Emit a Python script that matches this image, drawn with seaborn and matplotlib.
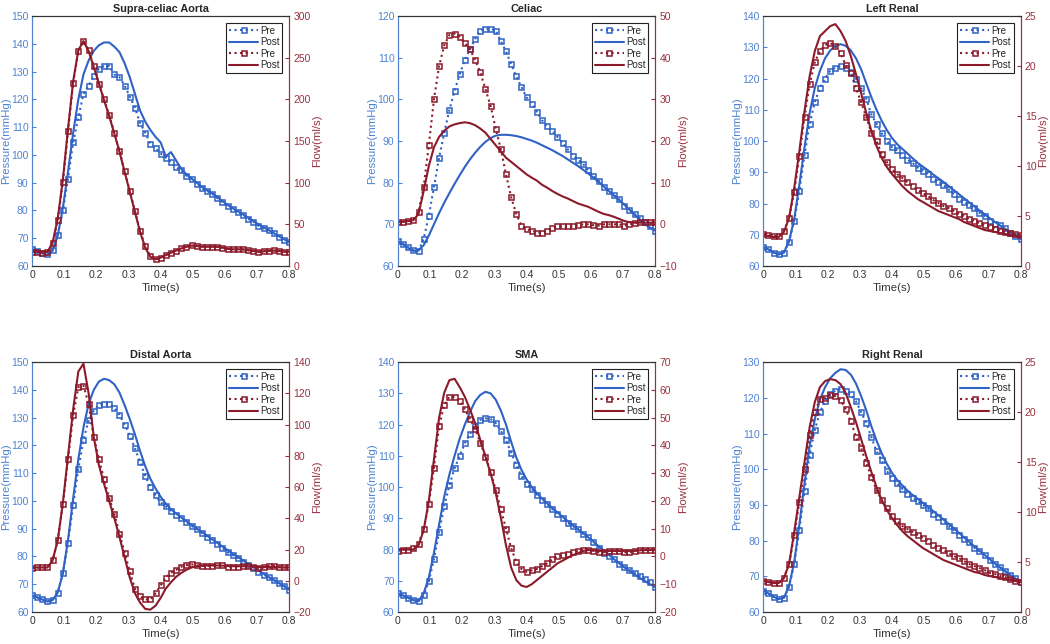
import numpy as np
import matplotlib
matplotlib.use("Agg")
import matplotlib.pyplot as plt
import seaborn as sns

sns.set_style("white")
plt.rcParams['font.family'] = ['Liberation Sans', 'DejaVu Sans']

# time grid of the sampled waveforms (s)
time = np.linspace(0, 0.8, 51)

# Supra-celiac Aorta
sca_p_pre = [66, 65.5, 64.8, 64.3, 65.8, 71, 80, 91.5, 104.5, 113.5, 122, 125, 128.5, 131, 132, 132, 129, 128, 125, 121,
             117, 111.5, 108, 104, 102.5, 100.5, 99, 97.5, 95.5, 94.5, 92.5, 91.5, 89.5, 88, 87, 86, 84.5, 83, 81.5, 80.5,
             79.5, 78.5, 77, 76, 74.5, 73.5, 73, 72, 70.5, 69.5, 68.5]
sca_p_post = [66, 65.5, 64.5, 64, 65.5, 71, 81, 94, 108, 120, 129, 134, 137.5, 139.5, 140.5, 140.5, 139, 137, 133, 128,
              122, 116, 112, 109, 106.5, 104.5, 99.5, 101, 98, 95, 93, 91.5, 90, 88.5, 87.3, 86.2, 84.8, 83.4, 82, 80.8,
              79.7, 78.6, 77.4, 76.2, 75, 73.9, 72.9, 71.8, 70.7, 69.6, 68.5]
sca_q_pre = [17, 17, 16, 17, 27, 55, 101, 162, 220, 258, 270, 259, 240, 219, 200, 181, 160, 138, 114, 90,
             66, 42, 24, 12, 8, 10, 13, 16, 18, 21, 23, 25, 24, 23, 23, 23, 23, 22, 20, 20,
             20, 20, 19, 18, 17, 18, 18, 19, 18, 17, 17]
sca_q_post = [17, 17, 16.5, 17, 28, 57, 104, 165, 222, 259, 270, 258, 239, 219, 199, 180, 159, 137, 113, 89,
              65, 41, 22, 11, 8, 10, 13, 16, 18.5, 21, 23, 24.5, 24, 23, 23, 23, 23, 22, 20.5, 20,
              20, 20, 19, 18, 17, 17.5, 18, 18.5, 18, 17, 17]

# Celiac
cel_p_pre = [66, 65.3, 64.5, 63.8, 63.7, 66.5, 72, 79, 86, 92, 97.5, 102, 106, 109.5, 112, 114.5, 116.5, 117, 117, 116.5,
             114, 111.5, 108.5, 105.5, 103, 100.5, 99, 97, 95, 93.5, 92.5, 91, 89.5, 88, 86.5, 85.5, 84.5, 83, 81.5, 80.5,
             79, 78, 77, 76, 74.5, 73.5, 72.5, 71.5, 70.5, 69.5, 68.5]
cel_p_post = [66, 65.2, 64.3, 63.6, 63.8, 65, 67.3, 70, 72.7, 75.2, 77.5, 79.7, 81.8, 83.8, 85.6, 87.2, 88.6, 89.8, 90.7, 91.3,
              91.5, 91.5, 91.4, 91.2, 90.9, 90.5, 90.1, 89.6, 89, 88.4, 87.8, 87.1, 86.4, 85.6, 84.8, 84, 83.1, 82.2, 81.2, 80.2,
              79.1, 78, 76.9, 75.8, 74.7, 73.5, 72.3, 71.1, 70, 69.2, 68.5]
cel_q_pre = [0.5, 0.6, 0.8, 1, 3, 9, 19, 30, 38, 43, 45.5, 45.8, 45, 43.5, 42, 39.5, 36.5, 32.5, 28.5, 23,
             18, 12, 6.5, 2.5, -0.3, -1.2, -1.5, -2, -2, -1.5, -1, -0.5, -0.5, -0.5, -0.5, -0.2, 0, 0, -0.2, -0.3,
             0, 0, 0, 0, -0.3, 0, 0.2, 0.5, 0.5, 0.5, 0.5]
cel_q_post = [0.5, 0.6, 0.8, 1, 2.5, 8, 14, 18.5, 21, 22.5, 23.5, 24, 24.3, 24.5, 24.3, 23.8, 23, 22, 20.5, 19,
              17.5, 16, 15, 14, 13, 12, 11.2, 10.5, 9.5, 8.8, 8, 7.3, 6.7, 6.2, 5.6, 5, 4.6, 4.2, 3.6, 3,
              2.5, 2.2, 1.8, 1.3, 0.8, 0.5, 0.4, 0.4, 0.4, 0.4, 0.4]

# Left Renal
lr_p_pre = [66, 65.3, 64.3, 63.7, 64.3, 67.8, 74.5, 84, 95.5, 105.5, 112.5, 117, 120, 122.5, 123.5, 124, 123.5, 122, 120, 117,
            113.5, 108.5, 105.5, 102.5, 100, 98, 97, 95.5, 94, 93, 91.5, 90.5, 89.5, 88, 87, 86, 84.5, 83, 81.5, 80.5,
            79.5, 78.5, 77, 76, 74.5, 73.5, 73, 72, 70.5, 69.5, 68.5]
lr_p_post = [66, 65.3, 64.3, 63.7, 64.3, 68, 75, 86, 98, 109, 117, 122.5, 126.5, 129, 130.5, 131, 130.5, 129, 126.5, 123,
             118.5, 114, 110, 106.5, 103.5, 101, 99, 97.5, 96, 94.5, 93, 91.8, 90.6, 89.3, 88.1, 86.9, 85.6, 84.3, 83, 81.7,
             80.4, 79.1, 77.8, 76.6, 75.3, 74.1, 73, 71.9, 70.8, 69.7, 68.7]
lr_q_pre = [3.2, 3.1, 3.0, 3.0, 3.5, 4.8, 7.4, 11, 14.9, 18.2, 20.4, 21.5, 22.1, 22.3, 22, 21.3, 20.1, 19.3, 17.8, 16.4,
            14.9, 13.3, 12.5, 11.2, 10.4, 9.7, 9.2, 8.8, 8.4, 8, 7.6, 7.3, 7.0, 6.6, 6.3, 6.0, 5.8, 5.5, 5.2, 5.0,
            4.7, 4.5, 4.3, 4.1, 3.9, 3.7, 3.5, 3.4, 3.3, 3.2, 3.1]
lr_q_post = [3.1, 3.0, 2.9, 2.9, 3.4, 4.8, 7.8, 11.5, 15.5, 19, 21.5, 23, 23.5, 24, 24.2, 23.5, 22.5, 21, 19.2, 17.3,
             15.3, 13.5, 12, 10.8, 9.9, 9.2, 8.6, 8.0, 7.5, 7.1, 6.7, 6.4, 6.1, 5.8, 5.5, 5.3, 5.1, 4.9, 4.7, 4.4,
             4.2, 4.0, 3.8, 3.6, 3.5, 3.4, 3.3, 3.2, 3.1, 3.0, 3.0]

# Distal Aorta
da_p_pre = [66, 65.3, 64.5, 63.8, 64.3, 67, 74, 85, 98.5, 111.5, 122, 129, 132.5, 134.5, 135, 135, 133.5, 131, 127.5, 123.5,
            119, 114, 109, 105, 102, 99.5, 98, 96.5, 95, 94, 92.5, 91, 90, 88.5, 87, 86, 84.5, 83, 81.5, 80.5,
            79.5, 78, 77, 76, 74.5, 73.5, 72.5, 71.5, 70.5, 69.5, 68]
da_p_post = [66, 65.3, 64.5, 63.8, 64.3, 67, 74, 86, 101, 115, 126.5, 135, 140, 143, 144, 143.5, 142, 139, 134.5, 129.5,
             124, 118, 112.5, 108, 104.5, 101.5, 99, 97, 95.5, 94, 92.7, 91.4, 90.1, 88.8, 87.5, 86.2, 84.9, 83.6, 82.3, 81,
             79.8, 78.6, 77.4, 76.2, 75, 73.8, 72.6, 71.5, 70.4, 69.3, 68.2]
da_q_pre = [8, 8.5, 8.5, 8.5, 13, 26, 49, 78, 106, 124, 125, 113, 92, 78, 65, 53, 43, 30, 18, 6,
            -5, -10, -12, -12, -8, -3, 2, 5, 7, 9, 10, 10.5, 10, 9.5, 9.5, 9.5, 10, 10, 9, 8.5,
            9, 9.5, 9.5, 8.5, 8, 8.5, 9.5, 9.5, 9, 8.5, 8.5]
da_q_post = [8.5, 8.5, 8.5, 8.5, 13, 26, 50, 80, 110, 134, 139, 120, 92, 74, 62, 51, 40, 28, 15, 2,
             -8, -14, -18, -18.5, -16, -11, -5, -1, 2.5, 5, 7, 8.5, 9.3, 9.6, 9.8, 9.8, 9.8, 9.7, 9.5, 9.3,
             9.3, 9.3, 9.3, 9, 8.8, 8.8, 8.8, 8.8, 8.6, 8.5, 8.5]

# SMA
sma_p_pre = [66, 65.3, 64.5, 63.8, 63.5, 65.3, 69.8, 77, 85.5, 94, 100.5, 106, 110, 114, 117, 119.5, 121.5, 122, 121.8, 120.5,
             118, 115, 111, 107, 103.5, 101, 99.5, 97.5, 96, 94.5, 93, 91.5, 90, 88.5, 87.5, 86.5, 85, 84, 82.5, 80.5,
             79, 78, 77, 75.5, 74.5, 73.5, 72.5, 71.5, 70.5, 69.5, 68]
sma_p_post = [66, 65.3, 64.5, 63.8, 63.5, 66, 71, 79, 88, 97, 104, 110, 115.5, 120, 124, 127.5, 129.5, 130.5, 130, 128,
              124.5, 120, 114.5, 109.5, 105.5, 102.5, 100, 98, 96.3, 94.8, 93.3, 91.9, 90.5, 89.1, 87.8, 86.5, 85.2, 83.9, 82.5, 81.1,
              79.7, 78.3, 76.9, 75.6, 74.3, 73.1, 72, 70.9, 69.9, 68.9, 68]
sma_q_pre = [2, 2.5, 2.5, 3, 4.5, 10, 19, 32, 47, 54.5, 57.5, 57.5, 56, 53, 49.5, 46, 41, 36, 30.5, 24,
             17, 10, 3, -2, -4.5, -5.5, -5, -4.5, -3.5, -2.5, -1, 0, 0.5, 1, 1.5, 2, 2.5, 2.5, 2, 1.5,
             1.5, 2, 2, 2, 1.5, 1.5, 2, 2.5, 2.5, 2.5, 2.5]
sma_q_post = [2.5, 2.5, 2.5, 2.5, 4, 9.5, 20, 35, 50, 59, 63.5, 64, 61, 57.5, 53, 48, 42, 36, 30, 23,
              14, 4, -4, -8.5, -10.5, -11, -10, -8.5, -7, -5.5, -4, -2.5, -1.5, -0.5, 0.5, 1.2, 2, 2.3, 2.2, 2,
              2, 2, 2, 2, 2, 2, 2, 2.2, 2.3, 2.3, 2.3]

# Right Renal
rr_p_pre = [66, 65.2, 64.3, 63.6, 64, 67, 73.5, 83, 94, 104, 111, 116, 119, 121, 122, 122.5, 122, 121, 119, 116,
            113, 109, 105, 102.5, 99.5, 97.5, 96, 94.5, 93, 92, 91, 90, 89, 87.5, 86.5, 85.5, 84, 83, 81.5, 80.5,
            79.5, 78, 77, 76, 74.5, 73.5, 72.5, 71.5, 70.5, 69.5, 68.5]
rr_p_post = [66, 65.2, 64.3, 63.6, 64, 67.3, 74, 84.5, 96, 106.5, 114, 119.5, 123, 125.5, 127, 128, 127.8, 126.5, 124, 120.5,
             116.5, 112, 108, 104.5, 101.5, 99, 97, 95.5, 94, 92.8, 91.7, 90.6, 89.5, 88.3, 87.1, 85.9, 84.7, 83.5, 82.2, 80.9,
             79.7, 78.4, 77.2, 76, 74.8, 73.6, 72.5, 71.4, 70.3, 69.3, 68.4]
rr_q_pre = [3.1, 3.0, 2.9, 2.9, 3.4, 4.8, 7.7, 11, 14.3, 17.7, 20, 21.3, 21.4, 21.7, 21.6, 21.2, 20.3, 19.1, 17.5, 16.4,
            14.9, 13.5, 12.2, 11.2, 10.4, 9.6, 9.1, 8.6, 8.3, 8, 7.7, 7.4, 7.1, 6.7, 6.4, 6.2, 5.9, 5.6, 5.4, 5.1,
            4.8, 4.6, 4.4, 4.2, 3.9, 3.8, 3.6, 3.5, 3.3, 3.1, 3.0]
rr_q_post = [3.1, 3.0, 2.9, 2.9, 3.4, 4.8, 8, 11.5, 15, 18.5, 21, 22.5, 23.1, 23.3, 23.2, 22.8, 21.9, 20.5, 19, 17.3,
             15.6, 14, 12.5, 11.2, 10.2, 9.4, 8.7, 8.1, 7.6, 7.2, 6.8, 6.4, 6.1, 5.8, 5.5, 5.2, 5.0, 4.8, 4.6, 4.4,
             4.2, 4.0, 3.9, 3.7, 3.6, 3.5, 3.4, 3.3, 3.2, 3.1, 3.0]

titles = ["Supra-celiac Aorta", "Celiac", "Left Renal", "Distal Aorta", "SMA", "Right Renal"]
p_lims = [(60, 150, 10), (60, 120, 10), (60, 140, 10), (60, 150, 10), (60, 140, 10), (60, 130, 10)]
q_lims = [(0, 300, 50), (-10, 50, 10), (0, 25, 5), (-20, 140, 20), (-20, 70, 10), (0, 25, 5)]
series = [
    (sca_p_pre, sca_p_post, sca_q_pre, sca_q_post),
    (cel_p_pre, cel_p_post, cel_q_pre, cel_q_post),
    (lr_p_pre, lr_p_post, lr_q_pre, lr_q_post),
    (da_p_pre, da_p_post, da_q_pre, da_q_post),
    (sma_p_pre, sma_p_post, sma_q_pre, sma_q_post),
    (rr_p_pre, rr_p_post, rr_q_pre, rr_q_post),
]

blue = "#2f62c4"
blue_txt = "#4f83d1"
red = "#8c1a2b"
red_txt = "#99303f"

fig = plt.figure(figsize=(10.5, 6.44), dpi=100)
lefts = [0.0305, 0.379, 0.727]
bottoms = [0.587, 0.0497]
w, h = 0.245, 0.388

for i, title in enumerate(titles):
    row, col = divmod(i, 3)
    ax = fig.add_axes([lefts[col], bottoms[row], w, h])
    ax2 = ax.twinx()
    p_pre, p_post, q_pre, q_post = series[i]

    sns.lineplot(x=time, y=p_pre, ax=ax, color=blue, linestyle=":", linewidth=1.5, marker="s",
                 markersize=3.6, markerfacecolor="none", markeredgecolor=blue, markeredgewidth=1.1, label="Pre")
    sns.lineplot(x=time, y=p_post, ax=ax, color=blue, linestyle="-", linewidth=1.5, label="Post")
    sns.lineplot(x=time, y=q_pre, ax=ax2, color=red, linestyle=":", linewidth=1.5, marker="s",
                 markersize=3.6, markerfacecolor="none", markeredgecolor=red, markeredgewidth=1.1, label="Pre")
    sns.lineplot(x=time, y=q_post, ax=ax2, color=red, linestyle="-", linewidth=1.5, label="Post")

    lo, hi, st = p_lims[i]
    ax.set_ylim(lo, hi)
    ax.set_yticks(np.arange(lo, hi + 0.1, st))
    lo, hi, st = q_lims[i]
    ax2.set_ylim(lo, hi)
    ax2.set_yticks(np.arange(lo, hi + 0.1, st))
    ax.set_xlim(0, 0.8)
    ax.set_xticks(np.arange(0, 0.81, 0.1))
    ax.set_xticklabels(["0"] + [f"{v:.1f}" for v in np.arange(0.1, 0.81, 0.1)])

    ax.set_title(title, fontsize=7.8, fontweight="bold", pad=3)
    ax.set_xlabel("Time(s)", fontsize=8.2, color="#333333", labelpad=2)
    ax.set_ylabel("Pressure(mmHg)", fontsize=8.2, color=blue_txt, labelpad=0)
    ax2.set_ylabel("Flow(ml/s)", fontsize=8.2, color=red_txt, labelpad=1)

    ax.tick_params(axis="x", direction="in", length=3, labelsize=7.5, colors="#333333", pad=3)
    ax.tick_params(axis="y", direction="in", length=3, labelsize=7.5, colors=blue_txt, pad=2.5)
    ax2.tick_params(axis="y", direction="in", length=3, labelsize=7.5, colors=red_txt, pad=3)
    for a in (ax, ax2):
        a.spines["top"].set_color("#333333")
        a.spines["bottom"].set_color("#333333")
        a.spines["left"].set_color(blue_txt)
        a.spines["right"].set_color(red_txt)
        for s in a.spines.values():
            s.set_linewidth(0.8)

    h1, l1 = ax.get_legend_handles_labels()
    h2, l2 = ax2.get_legend_handles_labels()
    ax.get_legend().remove()
    ax2.get_legend().remove()
    leg = ax2.legend(h1 + h2, l1 + l2, loc="upper right", fontsize=7, frameon=True, fancybox=False,
                     edgecolor="#222222", framealpha=1, handlelength=3.0, handletextpad=0.2,
                     labelspacing=0.15, borderpad=0.3, borderaxespad=0.7)
    leg.get_frame().set_linewidth(0.8)

fig.savefig("out.png", dpi=100)
